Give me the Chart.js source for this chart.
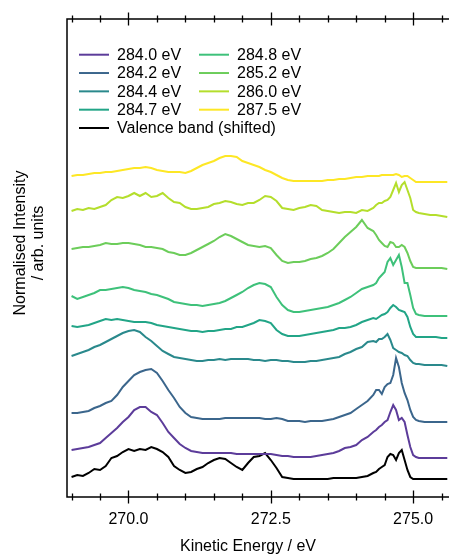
<!DOCTYPE html>
<html>
<head>
<meta charset="utf-8">
<script src="https://cdn.jsdelivr.net/npm/chart.js@4.4.1/dist/chart.umd.min.js"></script>
<style>
  html, body { margin: 0; padding: 0; background: #fff; }
  canvas { display: block; }
</style>
</head>
<body>
<canvas id="xpsChart" width="449" height="557"></canvas>
<script>
// kinetic energy axis (eV), finer step around the sharp peaks near 274.5-275
const energies = [
  269.0, 269.1, 269.2, 269.3, 269.4, 269.5, 269.6, 269.7, 269.8, 269.9,
  270.0, 270.1, 270.2, 270.3, 270.4, 270.5, 270.6, 270.7, 270.8, 270.9,
  271.0, 271.1, 271.2, 271.3, 271.4, 271.5, 271.6, 271.7, 271.8, 271.9,
  272.0, 272.1, 272.2, 272.3, 272.4, 272.5, 272.6, 272.7, 272.8, 272.9,
  273.0, 273.1, 273.2, 273.3, 273.4, 273.5, 273.6, 273.7, 273.8, 273.9,
  274.0, 274.1, 274.2, 274.3,
  274.35, 274.4, 274.45, 274.5, 274.55, 274.6, 274.65, 274.7, 274.75, 274.8,
  274.85, 274.9, 274.95, 275.0, 275.05, 275.1,
  275.2, 275.3, 275.4, 275.5, 275.6
];

// normalised intensity, already offset (arb. units)
const valenceBand = [
  0.20, 0.22, 0.21, 0.24, 0.28, 0.27, 0.31, 0.39, 0.41, 0.45,
  0.48, 0.46, 0.48, 0.47, 0.50, 0.48, 0.45, 0.40, 0.31, 0.27,
  0.24, 0.25, 0.28, 0.30, 0.34, 0.37, 0.39, 0.38, 0.34, 0.30,
  0.27, 0.34, 0.40, 0.41, 0.44, 0.37, 0.29, 0.20, 0.19, 0.18,
  0.18, 0.18, 0.18, 0.18, 0.18, 0.18, 0.19, 0.19, 0.19, 0.19,
  0.19, 0.20, 0.21, 0.24,
  0.25, 0.28, 0.30, 0.32, 0.40, 0.43, 0.42, 0.37, 0.44, 0.47,
  0.37, 0.27, 0.20, 0.18, 0.18, 0.18,
  0.18, 0.18, 0.18, 0.18, 0.18
];
const ev2840 = [
  0.47, 0.48, 0.49, 0.50, 0.52, 0.54, 0.59, 0.64, 0.69, 0.75,
  0.80, 0.87, 0.90, 0.90, 0.85, 0.82, 0.74, 0.65, 0.59, 0.53,
  0.49, 0.46, 0.45, 0.44, 0.44, 0.44, 0.44, 0.44, 0.44, 0.43,
  0.43, 0.43, 0.43, 0.43, 0.43, 0.43, 0.42, 0.41, 0.41, 0.40,
  0.40, 0.40, 0.40, 0.41, 0.42, 0.43, 0.44, 0.46, 0.49, 0.50,
  0.52, 0.57, 0.60, 0.65,
  0.67, 0.70, 0.72, 0.75, 0.77, 0.85, 0.92, 0.87, 0.77, 0.79,
  0.75, 0.62, 0.50, 0.42, 0.40, 0.39,
  0.39, 0.39, 0.39, 0.39, 0.39
];
const ev2842 = [
  0.84, 0.84, 0.85, 0.86, 0.89, 0.91, 0.94, 0.96, 1.02, 1.10,
  1.16, 1.22, 1.25, 1.27, 1.28, 1.24, 1.16, 1.07, 0.99, 0.90,
  0.84, 0.80, 0.79, 0.78, 0.78, 0.78, 0.78, 0.79, 0.79, 0.79,
  0.79, 0.79, 0.79, 0.79, 0.78, 0.78, 0.79, 0.78, 0.76, 0.76,
  0.76, 0.75, 0.76, 0.76, 0.76, 0.77, 0.78, 0.80, 0.82, 0.84,
  0.88, 0.92, 0.96, 1.02,
  1.07, 1.07, 1.03, 1.10, 1.13, 1.14, 1.22, 1.39, 1.30, 1.14,
  1.04, 0.97, 0.87, 0.80, 0.77, 0.76,
  0.75, 0.75, 0.75, 0.75, 0.75
];
const ev2844 = [
  1.41, 1.43, 1.45, 1.47, 1.50, 1.52, 1.55, 1.58, 1.61, 1.64,
  1.66, 1.67, 1.65, 1.60, 1.56, 1.51, 1.46, 1.43, 1.40, 1.39,
  1.38, 1.37, 1.36, 1.36, 1.37, 1.37, 1.38, 1.37, 1.38, 1.38,
  1.38, 1.38, 1.37, 1.37, 1.36, 1.37, 1.37, 1.36, 1.36, 1.35,
  1.35, 1.35, 1.36, 1.36, 1.37, 1.38, 1.39, 1.40, 1.43, 1.45,
  1.48, 1.50, 1.55, 1.56,
  1.55, 1.58, 1.58, 1.60, 1.63, 1.57, 1.49, 1.47, 1.45, 1.44,
  1.42, 1.41, 1.37, 1.34, 1.33, 1.33,
  1.32, 1.32, 1.32, 1.32, 1.31
];
const ev2847 = [
  1.71, 1.70, 1.71, 1.72, 1.74, 1.76, 1.78, 1.77, 1.78, 1.77,
  1.76, 1.75, 1.75, 1.75, 1.74, 1.72, 1.71, 1.70, 1.69, 1.68,
  1.67, 1.66, 1.66, 1.65, 1.66, 1.66, 1.67, 1.68, 1.68, 1.70,
  1.70, 1.72, 1.74, 1.77, 1.76, 1.74, 1.67, 1.63, 1.61, 1.61,
  1.61, 1.62, 1.63, 1.64, 1.65, 1.66, 1.67, 1.69, 1.69, 1.70,
  1.72, 1.75, 1.77, 1.79,
  1.78, 1.80, 1.82, 1.83, 1.85, 1.89, 1.92, 1.90, 1.87, 1.86,
  1.85, 1.80, 1.70, 1.63, 1.60, 1.60,
  1.60, 1.60, 1.60, 1.59, 1.59
];
const ev2848 = [
  2.01, 1.98, 2.00, 2.02, 2.04, 2.07, 2.07, 2.08, 2.09, 2.10,
  2.09, 2.07, 2.06, 2.05, 2.03, 2.02, 2.00, 1.98, 1.95, 1.94,
  1.93, 1.92, 1.92, 1.91, 1.92, 1.93, 1.94, 1.96, 1.99, 2.02,
  2.05, 2.09, 2.12, 2.14, 2.13, 2.10, 2.00, 1.92, 1.87, 1.85,
  1.85, 1.86, 1.87, 1.88, 1.89, 1.90, 1.92, 1.94, 1.97, 2.00,
  2.04, 2.08, 2.10, 2.12,
  2.14, 2.19, 2.22, 2.25, 2.35, 2.39, 2.32, 2.37, 2.42, 2.30,
  2.14, 2.14, 2.02, 1.89, 1.83, 1.82,
  1.81, 1.81, 1.81, 1.81, 1.81
];
const ev2852 = [
  2.48, 2.49, 2.50, 2.50, 2.51, 2.52, 2.54, 2.53, 2.53, 2.54,
  2.54, 2.53, 2.52, 2.50, 2.50, 2.49, 2.48, 2.45, 2.44, 2.42,
  2.42, 2.44, 2.47, 2.50, 2.53, 2.56, 2.60, 2.63, 2.61, 2.58,
  2.55, 2.52, 2.51, 2.50, 2.51, 2.49, 2.42, 2.36, 2.34, 2.35,
  2.35, 2.36, 2.38, 2.39, 2.41, 2.44, 2.48, 2.54, 2.60, 2.65,
  2.70, 2.77, 2.69, 2.66,
  2.62, 2.57, 2.54, 2.51, 2.50, 2.55, 2.54, 2.50, 2.50, 2.52,
  2.50, 2.44, 2.36, 2.30, 2.29, 2.29,
  2.29, 2.29, 2.29, 2.29, 2.28
];
const ev2860 = [
  2.86, 2.88, 2.87, 2.89, 2.88, 2.90, 2.92, 2.97, 3.00, 2.99,
  3.01, 3.04, 3.01, 3.04, 3.00, 3.01, 3.04, 2.99, 2.95, 2.94,
  2.90, 2.88, 2.88, 2.89, 2.90, 2.93, 2.94, 2.96, 2.95, 2.93,
  2.92, 2.94, 2.94, 2.97, 3.01, 3.00, 2.96, 2.89, 2.88, 2.87,
  2.89, 2.90, 2.92, 2.91, 2.87, 2.86, 2.85, 2.84, 2.85, 2.85,
  2.84, 2.87, 2.86, 2.89,
  2.92, 2.94, 2.94, 2.96, 2.97, 3.00, 3.07, 3.14, 3.05, 3.12,
  3.15, 3.07, 2.99, 2.87, 2.85, 2.84,
  2.83, 2.82, 2.82, 2.81, 2.80
];
const ev2875 = [
  3.21, 3.22, 3.22, 3.23, 3.24, 3.24, 3.25, 3.25, 3.26, 3.27,
  3.28, 3.29, 3.29, 3.30, 3.29, 3.27, 3.26, 3.25, 3.25, 3.25,
  3.24, 3.26, 3.29, 3.32, 3.34, 3.36, 3.39, 3.41, 3.41, 3.40,
  3.36, 3.34, 3.32, 3.30, 3.27, 3.25, 3.22, 3.19, 3.17, 3.16,
  3.16, 3.16, 3.16, 3.16, 3.16, 3.17, 3.17, 3.18, 3.18, 3.19,
  3.20, 3.20, 3.21, 3.21,
  3.21, 3.21, 3.22, 3.22, 3.22, 3.22, 3.22, 3.23, 3.22, 3.20,
  3.21, 3.21, 3.19, 3.17, 3.15, 3.15,
  3.15, 3.15, 3.15, 3.15, 3.15
];

const seriesLabels = ['284.0 eV', '284.2 eV', '284.4 eV', '284.7 eV',
  '284.8 eV', '285.2 eV', '286.0 eV', '287.5 eV', 'Valence band (shifted)'];
const seriesColors = ['#5c3c9a', '#3b668c', '#2a898c', '#22a587',
  '#3ec17a', '#6ccd5a', '#b4de2c', '#fde725', '#000000'];
const spectra = [ev2840, ev2842, ev2844, ev2847, ev2848, ev2852, ev2860,
  ev2875, valenceBand];

const xMajorTicks = [270.0, 272.5, 275.0];
const xMinorTicks = [269.0, 269.5, 270.0, 270.5, 271.0, 271.5, 272.0, 272.5,
  273.0, 273.5, 274.0, 274.5, 275.0, 275.5];

const FONT = "'Liberation Sans', Arial, sans-serif";

function toPoints(values) {
  return energies.map((e, i) => ({x: e, y: values[i]}));
}

// spines, in-out tick marks, legend and axis titles
const axesDecor = {
  id: 'axesDecor',
  afterDraw(chart) {
    const {ctx, chartArea} = chart;
    const x = chart.scales.x;
    ctx.save();
    ctx.strokeStyle = '#000';
    ctx.lineWidth = 1.5;
    ctx.beginPath();
    ctx.moveTo(chartArea.left, chartArea.top);
    ctx.lineTo(chartArea.right, chartArea.top);
    ctx.moveTo(chartArea.left, chartArea.bottom);
    ctx.lineTo(chartArea.right, chartArea.bottom);
    ctx.moveTo(chartArea.left, chartArea.top - 0.75);
    ctx.lineTo(chartArea.left, chartArea.bottom + 0.75);
    ctx.stroke();

    ctx.lineWidth = 1.3;
    ctx.beginPath();
    xMinorTicks.forEach(v => {
      const px = Math.round(x.getPixelForValue(v)) + 0.5;
      const len = xMajorTicks.includes(v) ? 6.5 : 3.5;
      [chartArea.top, chartArea.bottom].forEach(py => {
        ctx.moveTo(px, py - len);
        ctx.lineTo(px, py + len);
      });
    });
    ctx.stroke();

    // legend, two columns
    const columns = [[0, 1, 2, 3, 8], [4, 5, 6, 7]];
    const colX = [79, 199];
    ctx.font = '16px ' + FONT;
    ctx.textAlign = 'left';
    ctx.textBaseline = 'middle';
    columns.forEach((col, c) => {
      col.forEach((idx, r) => {
        const ds = chart.data.datasets[idx];
        const y = chartArea.top + 35.7 + r * 18.33;
        ctx.strokeStyle = ds.borderColor;
        ctx.lineWidth = 2;
        ctx.beginPath();
        ctx.moveTo(colX[c], y);
        ctx.lineTo(colX[c] + 30, y);
        ctx.stroke();
        ctx.fillStyle = '#000';
        ctx.fillText(ds.label, colX[c] + 38, y + 1);
      });
    });

    // axis titles
    ctx.fillStyle = '#000';
    ctx.textAlign = 'center';
    ctx.fillText('Kinetic Energy / eV', 248, 547);
    ctx.save();
    ctx.translate(21, 243);
    ctx.rotate(-Math.PI / 2);
    ctx.fillText('Normalised Intensity', 0, 0);
    ctx.fillText('/ arb. units', 0, 18);
    ctx.restore();
    ctx.restore();
  }
};

const ctx = document.getElementById('xpsChart').getContext('2d');

const xpsChart = new Chart(ctx, {
  type: 'line',
  data: {
    datasets: spectra.map((values, i) => ({
      label: seriesLabels[i],
      data: toPoints(values),
      borderColor: seriesColors[i],
      borderWidth: 2,
      pointRadius: 0,
      fill: false,
      tension: 0
    }))
  },
  options: {
    responsive: false,
    animation: false,
    devicePixelRatio: 1,
    layout: {
      padding: {left: 67, right: 0, top: 19, bottom: 0}
    },
    plugins: {
      legend: {display: false},
      tooltip: {enabled: false}
    },
    scales: {
      x: {
        type: 'linear',
        min: 268.92,
        max: 275.63,
        afterFit: scale => {
          scale.height = 60;
        },
        afterBuildTicks: scale => {
          scale.ticks = xMajorTicks.map(v => ({value: v}));
        },
        grid: {display: false, drawTicks: false},
        border: {display: false},
        ticks: {
          autoSkip: false,
          maxRotation: 0,
          padding: 13,
          color: '#000',
          font: {family: FONT, size: 16},
          callback: v => v.toFixed(1)
        }
      },
      y: {
        display: false,
        min: 0,
        max: 4.78
      }
    }
  },
  plugins: [axesDecor]
});
</script>
</body>
</html>
